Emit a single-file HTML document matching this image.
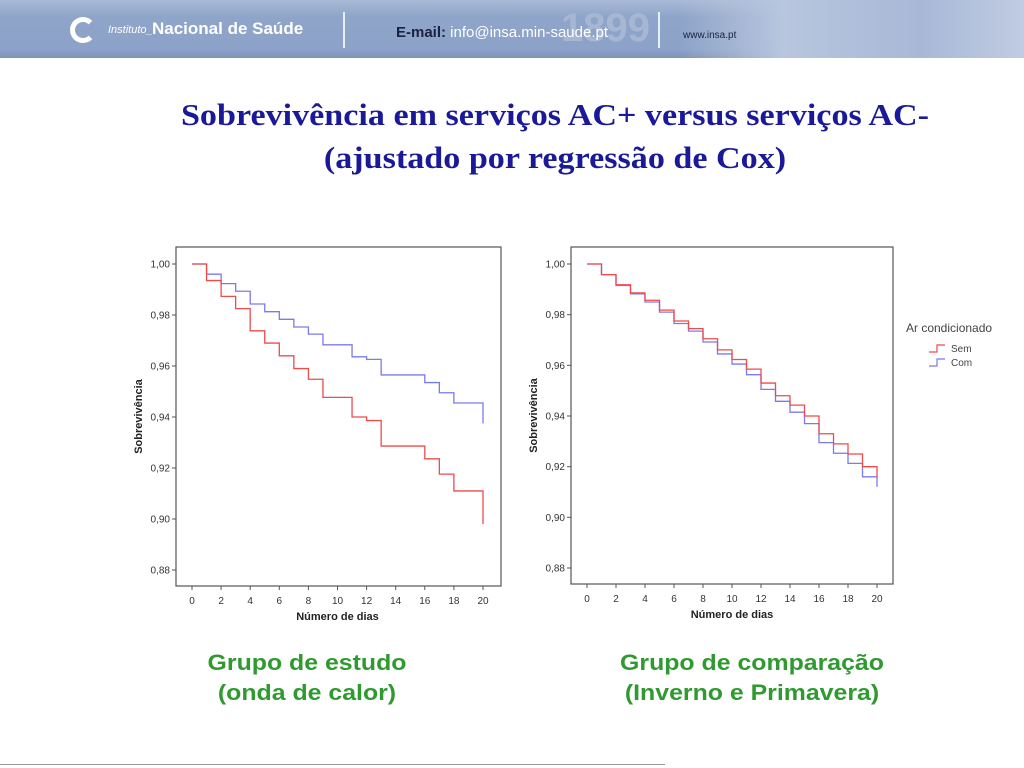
<!DOCTYPE html>
<html><head><meta charset="utf-8"><style>
body{margin:0;width:1024px;height:768px;background:#fff;position:relative;overflow:hidden;font-family:"Liberation Sans",sans-serif}
.hdr{position:absolute;left:0;top:0;width:1024px;height:58px;background:linear-gradient(#a9bad6,#8ea4c9 30%,#8ca2c8 85%,#7f93b8);}
.hdr2{position:absolute;left:680px;top:0;width:344px;height:58px;background:linear-gradient(90deg,rgba(170,185,215,0),#b8c6de 30%,#a8b8d6 70%,#c0cce2);}
.t{position:absolute;white-space:nowrap}
.title{position:absolute;left:0;width:1110px;text-align:center;font-family:"Liberation Serif",serif;font-weight:bold;font-size:31px;color:#1a1a99;transform:scaleX(1.1);transform-origin:555px 0}
.cap{position:absolute;width:400px;text-align:center;font-weight:bold;font-size:22px;line-height:30px;color:#2f9a2f;transform:scaleX(1.13)}
</style></head><body>
<div class="hdr"></div><div class="hdr2"></div>
<div class="t" style="left:70px;top:17px;width:26px;height:26px;border-radius:50%;border:5px solid #fff;box-sizing:border-box;border-right-color:transparent"></div>
<div class="t" style="left:108px;top:24px;font-size:11px;color:#fff;font-style:italic">Instituto_</div>
<div class="t" style="left:152px;top:19px;font-size:17px;color:#fff;font-weight:bold">Nacional de Saúde</div>
<div class="t" style="left:343px;top:12px;width:2px;height:36px;background:#e8eef8"></div>
<div class="t" style="left:561px;top:6px;font-size:40px;color:#a7b7d3;font-weight:bold">1899</div>
<div class="t" style="left:396px;top:24px;font-size:15px;color:#fff"><b style="color:#1a2240">E-mail:</b> info@insa.min-saude.pt</div>
<div class="t" style="left:658px;top:12px;width:2px;height:36px;background:#e8eef8"></div>
<div class="t" style="left:683px;top:30px;font-size:10px;color:#1a2240">www.insa.pt</div>
<div class="title" style="top:97px">Sobrevivência em serviços AC+ versus serviços AC-</div>
<div class="title" style="top:140px">(ajustado por regressão de Cox)</div>
<svg class="t" style="left:0;top:0" width="1024" height="768" id="s" font-family="Liberation Sans,sans-serif"></svg>
<div class="cap" style="left:107px;top:648px">Grupo de estudo<br>(onda de calor)</div>
<div class="cap" style="left:552px;top:648px">Grupo de comparação<br>(Inverno e Primavera)</div>
<div class="t" style="left:0;top:764px;width:665px;height:1px;background:#999"></div>
<script>
var s=document.getElementById('s'),h='';
function chart(L,T,R,B,x0,x20,y1,y88,red,blue,redE,blueE){
 var X=d=>x0+(x20-x0)*d/20,Y=v=>y1+(y88-y1)*(1-v)/0.12;
 h+='<rect x="'+L+'" y="'+T+'" width="'+(R-L)+'" height="'+(B-T)+'" fill="none" stroke="#555" stroke-width="1.2"/>';
 var lab=['1,00','0,98','0,96','0,94','0,92','0,90','0,88'];
 for(var i=0;i<7;i++){var y=Y(1-i*0.02);h+='<line x1="'+(L-4)+'" x2="'+L+'" y1="'+y+'" y2="'+y+'" stroke="#555"/><text x="'+(L-6)+'" y="'+(y+3.5)+'" font-size="10" fill="#333" text-anchor="end">'+lab[i]+'</text>';}
 for(var d=0;d<=20;d+=2){var x=X(d);h+='<line x1="'+x+'" x2="'+x+'" y1="'+B+'" y2="'+(B+4)+'" stroke="#555"/><text x="'+x+'" y="'+(B+18)+'" font-size="10" fill="#333" text-anchor="middle">'+d+'</text>';}
 h+='<text x="'+((x0+x20)/2)+'" y="'+(B+34)+'" font-size="11" font-weight="bold" text-anchor="middle" fill="#222">Número de dias</text>';
 h+='<text transform="translate('+(L-34)+','+((T+B)/2)+') rotate(-90)" font-size="11" font-weight="bold" text-anchor="middle" fill="#222">Sobrevivência</text>';
 function line(v,e,c){var p='M'+X(0)+','+Y(v[0]);for(var k=1;k<v.length;k++){p+='H'+X(v[k][0])+'V'+Y(v[k][1]);}p+='H'+X(20)+'V'+Y(e);h+='<path d="'+p+'" fill="none" stroke="'+c+'" stroke-width="1.3"/>';}
 line(blue,blueE,'#7a7af0');line(red,redE,'#ee4b4b');
}
function mk(arr){var r=[arr[0]];for(var i=1;i<arr.length;i++)r.push([arr[i][0],arr[i][1]]);return r;}
chart(176,247,501,586,192,483,264,570,
 mk([1,[1,.9935],[2,.9873],[3,.9825],[4,.9738],[5,.969],[6,.964],[7,.959],[8,.9548],[9,.9477],[11,.940],[12,.9386],[13,.9286],[16,.9236],[17,.9176],[18,.911]]),
 mk([1,[1,.996],[2,.9923],[3,.9893],[4,.9843],[5,.9813],[6,.9783],[7,.9753],[8,.9725],[9,.9683],[11,.9636],[12,.9626],[13,.9565],[16,.9535],[17,.9495],[18,.9455]]),.898,.9375);
var rv=[1,.9958,.9918,.9886,.9857,.9818,.9775,.9745,.9705,.9661,.9623,.9585,.953,.948,.9443,.940,.933,.929,.925,.920];
var bv=[1,.9958,.9915,.9882,.985,.981,.9765,.9735,.9692,.9645,.9605,.9563,.9505,.9458,.9415,.937,.9295,.9253,.9213,.916];
var R2=[1],B2=[1];for(var k=1;k<20;k++){R2.push([k,rv[k]]);B2.push([k,bv[k]]);}
chart(571,247,893,584,587,877,264,568,R2,B2,.916,.912);
h+='<text x="906" y="332" font-size="12" fill="#444">Ar condicionado</text>';
h+='<path d="M929,352H937V345H945" fill="none" stroke="#ee4b4b" stroke-width="1.2"/><text x="951" y="352" font-size="10" fill="#444">Sem</text>';
h+='<path d="M929,366H937V359H945" fill="none" stroke="#7a7af0" stroke-width="1.2"/><text x="951" y="366" font-size="10" fill="#444">Com</text>';
s.innerHTML=h;
</script>
</body></html>
